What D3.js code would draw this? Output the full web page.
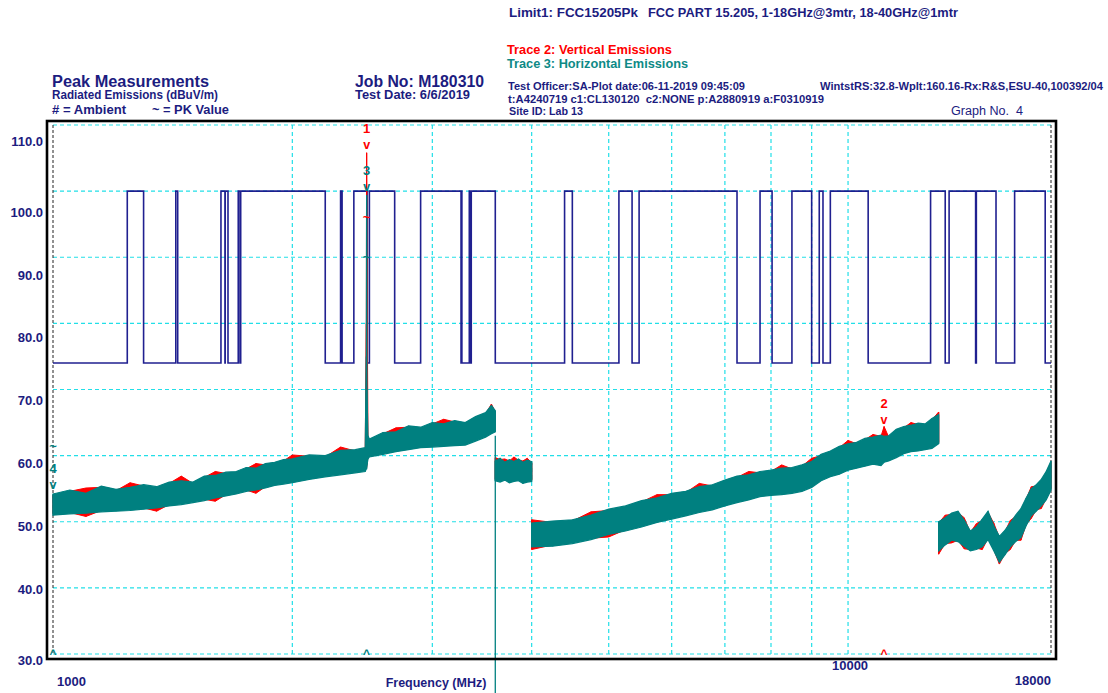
<!DOCTYPE html>
<html><head><meta charset="utf-8">
<script src="https://cdn.jsdelivr.net/npm/d3@7/dist/d3.min.js"></script>
<style>
html,body{margin:0;padding:0;background:#fff;}
svg{display:block;}
text{font-family:"Liberation Sans",Arial,sans-serif;white-space:pre;}
</style></head><body>
<svg id="chart" width="1108" height="693"></svg>
<script>
// ---------------- data ----------------
const yGridValues = [30,40,50,60,70,80,90,100,110];
const yTickLabels = [30,40,50,60,70,80,90,100,110];
const xGridValues = [2000,3000,4000,5000,6000,7000,8000,9000,10000];
const xEdgeValues = [1000,18000];
const xTickLabels = [1000,10000,18000];

// Limit1: FCC 15.205 (step line, MHz / dBuV/m)
const limitFreq  = [1000,1240,1300,1427,1435,1626.5,1645.5,1646.5,1660,1710,1718.8,1722.2,2200,2300,2310,2390,2483.5,2500,2690,2900,3260,3267,3268,3339,3345.8,3358,3600,4400,4500,5150,5350,5460,7250,7750,8025,8500,9000,9200,9300,9500,10600,12700,13250,13400,14470,14500,15350,16200,17700,18000];
const limitLevel = [74,100,74,100,74,100,74,100,74,100,74,100,74,100,74,100,74,100,74,100,74,100,74,100,74,100,74,100,74,100,74,100,74,100,74,100,74,100,74,100,74,100,74,100,74,100,74,100,74,74];

// Segment A 1000-3600 MHz
const freqA    = [1000,1050,1100,1150,1200,1250,1300,1350,1400,1450,1500,1550,1600,1650,1700,1750,1800,1850,1900,1950,2000,2100,2200,2300,2400,2470,2478,2480,2482,2490,2500,2600,2700,2800,2900,3000,3100,3200,3300,3400,3500,3560,3600];
const horizHiA = [54.2,54.8,54.3,55.4,54.9,55.2,55.6,55.3,56.0,56.2,56.0,56.9,57.0,57.5,57.6,58.2,58.1,58.8,59.0,59.4,59.5,60.1,60.0,60.8,60.9,61.2,75.0,99.4,70.0,63.0,62.5,63.5,63.6,64.5,64.3,65.0,64.8,65.3,65.0,65.9,66.5,67.6,66.8];
const horizLoA = [51.0,51.2,51.3,51.5,51.6,51.7,51.9,52.1,52.4,52.6,52.9,53.2,53.6,53.9,54.2,54.6,54.8,55.1,55.5,55.7,55.9,56.4,56.8,57.1,57.4,57.6,58.0,58.0,58.5,59.5,59.8,60.2,60.6,60.9,61.2,61.3,61.4,61.5,61.6,62.2,62.8,63.3,63.6];
const vertHiA  = [54.0,54.6,55.1,55.2,54.7,55.9,55.4,55.1,55.8,56.9,55.8,56.7,57.6,57.3,57.4,58.0,58.8,58.6,58.8,59.2,60.1,59.9,59.8,61.3,60.7,61.0,80.0,105.8,90.0,62.8,62.3,63.3,64.2,64.3,64.1,64.8,65.5,65.1,64.8,65.7,66.3,67.8,66.6];
const vertLoA  = [51.2,51.4,50.8,51.7,51.8,51.9,52.1,51.6,52.6,52.8,53.1,53.4,53.1,54.1,54.4,54.8,54.3,55.3,55.7,55.9,56.1,56.6,57.0,57.3,57.6,57.8,58.2,58.2,58.7,59.7,60.0,60.4,60.8,61.1,61.4,61.5,61.6,61.7,61.8,62.4,63.0,63.5,63.8];

// Segment B 3600-4000 MHz
const freqB    = [3600,3650,3700,3750,3800,3850,3900,3950,4000];
const horizHiB = [59.2,59.6,59.0,59.4,59.1,59.5,59.0,59.3,59.1];
const horizLoB = [56.2,56.0,56.3,55.9,56.1,56.2,55.8,56.0,56.1];
const vertHiB  = [59.7,59.4,59.5,59.2,59.8,59.3,59.2,59.6,58.9];
const vertLoB  = [56.4,56.2,56.5,56.1,56.3,56.4,56.0,56.2,56.3];

// Segment C 4000-13000 MHz
const freqC    = [4000,4250,4500,4750,5000,5250,5500,5750,6000,6250,6500,6750,7000,7250,7500,7750,8000,8250,8500,8750,9000,9250,9500,9750,10000,10250,10500,10750,11000,11100,11250,11500,11750,12000,12250,12500,12750,13000];
const horizHiC = [49.8,50.1,50.3,51.0,51.9,52.4,53.2,53.6,54.3,54.6,55.3,55.6,56.3,56.9,57.1,57.6,57.8,58.1,58.2,58.6,59.1,60.2,60.7,61.4,61.8,62.0,62.6,62.8,63.1,62.9,63.0,64.0,64.4,64.6,64.9,64.8,65.6,66.2];
const horizLoC = [46.2,46.3,46.7,47.3,48.1,48.6,49.2,49.9,50.4,50.9,51.4,51.8,52.4,52.9,53.3,53.8,54.0,54.1,54.3,54.6,55.2,56.2,56.8,57.2,57.8,58.1,58.4,58.7,58.5,59.0,59.2,59.7,60.3,60.6,60.7,60.9,61.1,61.8];
const vertHiC  = [50.3,49.9,50.1,51.5,51.7,52.2,53.0,54.1,54.1,54.4,55.8,55.4,56.1,56.7,57.6,57.4,57.6,58.6,58.0,58.4,59.6,60.0,60.5,61.2,62.3,61.8,62.4,63.2,62.9,64.4,62.8,63.8,64.2,65.0,64.7,64.6,65.4,66.6];
const vertLoC  = [45.8,46.5,46.9,47.5,47.7,48.8,49.4,50.1,50.6,51.1,51.6,52.0,52.6,53.1,53.5,54.0,54.2,54.3,54.5,54.8,55.4,56.4,57.0,57.4,58.0,58.3,58.6,58.9,58.7,59.2,59.4,59.9,60.5,60.8,60.9,61.1,61.3,62.0];

// Segment D 13000-18000 MHz
const freqD    = [13000,13250,13500,13750,14000,14250,14500,14750,15000,15250,15500,15750,16000,16250,16500,16750,17000,17250,17500,17750,18000];
const horizHiD = [50.0,50.6,51.3,51.6,50.2,48.6,49.2,50.4,51.6,49.4,47.8,48.7,49.8,51.0,52.0,53.6,55.0,55.6,56.4,57.6,59.2];
const horizLoD = [45.6,46.5,47.2,47.0,46.3,45.6,45.8,46.2,47.3,45.6,43.9,45.0,46.2,47.0,47.6,49.4,50.9,51.6,52.4,53.3,54.8];
const vertHiD  = [49.8,51.0,51.1,51.4,50.6,48.4,49.7,50.2,51.4,49.8,47.6,48.5,50.2,50.8,51.8,53.4,55.3,55.4,56.2,57.4,59.0];
const vertLoD  = [45.1,46.7,46.8,47.2,45.9,45.8,46.0,45.8,47.5,45.8,43.6,45.2,45.8,47.2,47.2,49.6,50.5,51.8,52.0,53.5,55.0];

// glitch line of trace 3 at band edge
const glitchFreq = [3600];
const glitchTop = [63.0];
const glitchBottom = [20.0];

// markers
const markerNum   = ["1","2","3","4"];
const markerFreq  = [2480,11100,2480,1000];
const markerValue = [105.8,64.2,99.4,54.3];
const markerTrace = ["V","V","H","H"];
const caretFreq   = [1000,2480,11100];
const caretTrace  = ["H","H","V"];
const tildeFreq   = [2480,2480,1000];
const tildeValue  = [95.9,89.9,61.3];
const tildeTrace  = ["V","H","H"];

// ---------------- chart ----------------
const NAVY = "#1c1c80", RED = "#ff0000", TEAL = "#008080", CYAN = "#22dfe8";
const color = t => t === "V" ? RED : TEAL;
const svg = d3.select("#chart");

const x = d3.scaleLog().domain([1000,18000]).range([53,1051]);
const y = d3.scaleLinear().domain([30,110]).range([654,125]);
const yLab = d3.scaleLinear().domain([30,40,100,110]).range([660,589,212,141]);

// grid
const grid = svg.append("g");
grid.selectAll(".hg").data(yGridValues).join("line")
  .attr("x1", x(1000)).attr("x2", x(18000))
  .attr("y1", d => y(d)).attr("y2", d => y(d))
  .attr("stroke", CYAN).attr("stroke-width", 1.2).attr("stroke-dasharray", "4,3");
grid.selectAll(".vg").data(xGridValues).join("line")
  .attr("x1", d => x(d)).attr("x2", d => x(d))
  .attr("y1", y(110)).attr("y2", y(30))
  .attr("stroke", CYAN).attr("stroke-width", 1.2).attr("stroke-dasharray", "4,3");
grid.selectAll(".eg").data(xEdgeValues).join("line")
  .attr("x1", d => x(d)).attr("x2", d => x(d))
  .attr("y1", y(110)).attr("y2", y(30))
  .attr("stroke", "#222").attr("stroke-width", 1).attr("stroke-dasharray", "3,2");

// limit line
const limitData = limitFreq.map((f,i) => ({f, v: limitLevel[i]}));
svg.append("path").datum(limitData)
  .attr("d", d3.line().x(d => x(d.f)).y(d => y(d.v)).curve(d3.curveStepAfter))
  .attr("fill", "none").attr("stroke", "#14148a").attr("stroke-width", 1.6)
  .attr("stroke-opacity", 0.95);

// traces
const segs = [
  {f: freqA, hHi: horizHiA, hLo: horizLoA, vHi: vertHiA, vLo: vertLoA},
  {f: freqB, hHi: horizHiB, hLo: horizLoB, vHi: vertHiB, vLo: vertLoB},
  {f: freqC, hHi: horizHiC, hLo: horizLoC, vHi: vertHiC, vLo: vertLoC},
  {f: freqD, hHi: horizHiD, hLo: horizLoD, vHi: vertHiD, vLo: vertLoD}
];
const area = d3.area().x(d => x(d.f)).y0(d => y(d.lo)).y1(d => y(d.hi));
function drawTrace(hiKey, loKey, col, sw){
  segs.forEach(s => {
    const data = s.f.map((f,i) => ({f, hi: s[hiKey][i], lo: s[loKey][i]}));
    svg.append("path").datum(data).attr("d", area)
      .attr("fill", col).attr("stroke", col).attr("stroke-width", sw)
      .attr("stroke-linejoin", "miter");
    svg.selectAll(null).data(data).join("line")
      .attr("x1", d => x(d.f)).attr("x2", d => x(d.f))
      .attr("y1", d => y(d.hi)).attr("y2", d => y(d.lo))
      .attr("stroke", col).attr("stroke-width", 1.2);
  });
}
drawTrace("vHi", "vLo", RED, 1.0);
drawTrace("hHi", "hLo", TEAL, 1.2);

svg.selectAll(".glitch").data(glitchFreq).join("line")
  .attr("x1", d => x(d)).attr("x2", d => x(d))
  .attr("y1", (d,i) => y(glitchTop[i])).attr("y2", (d,i) => y(glitchBottom[i]))
  .attr("stroke", TEAL).attr("stroke-width", 1.3);

// markers
const mk = svg.append("g").attr("font-weight", "bold").attr("text-anchor", "middle");
markerNum.forEach((n,i) => {
  const cx = x(markerFreq[i]);
  const py = y(markerValue[i]);
  mk.append("text").attr("x", cx).attr("y", py - 20).attr("font-size", 13)
    .attr("fill", color(markerTrace[i])).text(n);
  mk.append("text").attr("x", cx).attr("y", py - 4).attr("font-size", 12.5)
    .attr("fill", color(markerTrace[i])).text("v");
});
caretFreq.forEach((f,i) => {
  mk.append("text").attr("x", x(f)).attr("y", 658).attr("font-size", 12)
    .attr("fill", color(caretTrace[i])).text("^");
});
tildeFreq.forEach((f,i) => {
  mk.append("text").attr("x", x(f)).attr("y", y(tildeValue[i]) + 4).attr("font-size", 13)
    .attr("fill", color(tildeTrace[i])).text("~");
});

// frame
svg.append("rect").attr("x", 47).attr("y", 121).attr("width", 1009).attr("height", 538)
  .attr("fill", "none").attr("stroke", "#000").attr("stroke-width", 2.6);

// y labels
const yAxis = d3.axisLeft(yLab).tickValues(yTickLabels).tickSize(0).tickPadding(0)
  .tickFormat(d3.format(".1f"));
const ya = svg.append("g").attr("transform", "translate(43,0)").call(yAxis);
ya.select(".domain").remove();
ya.selectAll("text").attr("font-family", "Liberation Sans, Arial, sans-serif")
  .attr("font-size", 13).attr("font-weight", "bold").attr("fill", NAVY);

// x labels
const xlab = svg.append("g").attr("font-weight", "bold").attr("font-size", 13).attr("fill", NAVY);
const xAnchor = ["start","middle","end"], xDx = [4,2,0], xBase = [686,670,685];
xTickLabels.forEach((t,i) => {
  xlab.append("text").attr("x", x(t) + xDx[i]).attr("y", xBase[i])
    .attr("text-anchor", xAnchor[i]).text(String(t));
});
svg.append("text").attr("x", 436).attr("y", 686.5).attr("text-anchor", "middle")
  .attr("font-weight", "bold").attr("font-size", 12.5).attr("fill", NAVY)
  .text("Frequency (MHz)");

// header texts
function txt(s, xx, yy, size, weight, fill, len){
  const t = svg.append("text").attr("x", xx).attr("y", yy).attr("font-size", size)
    .attr("font-weight", weight).attr("fill", fill).text(s);
  if (len) t.attr("textLength", len).attr("lengthAdjust", "spacingAndGlyphs");
  return t;
}
txt("Limit1: FCC15205Pk", 509, 17.3, 12, "bold", NAVY, 129);
txt("FCC PART 15.205, 1-18GHz@3mtr, 18-40GHz@1mtr", 648, 17.3, 12, "bold", NAVY, 310);
txt("Trace 2: Vertical Emissions", 507, 54.3, 12, "bold", RED, 165);
txt("Trace 3: Horizontal Emissions", 507, 68.3, 12, "bold", "#0e8a86", 181);
txt("Test Officer:SA-Plot date:06-11-2019 09:45:09", 508, 89.6, 10, "bold", NAVY, 237);
txt("WintstRS:32.8-Wplt:160.16-Rx:R&S,ESU-40,100392/04", 820, 89.6, 10, "bold", NAVY, 283);
txt("t:A4240719 c1:CL130120  c2:NONE p:A2880919 a:F0310919", 508, 102.6, 10, "bold", NAVY, 316);
txt("Site ID: Lab 13", 509, 114.6, 10, "bold", NAVY, 74);
txt("Graph No.  4", 951, 115.3, 12, "normal", NAVY, 72);
txt("Peak Measurements", 52, 86.7, 16, "bold", NAVY, 157);
txt("Radiated Emissions (dBuV/m)", 52, 99.3, 12, "bold", NAVY, 166);
txt("# = Ambient", 52, 114.3, 12, "bold", NAVY, 74);
txt("~ = PK Value", 152, 114.3, 12, "bold", NAVY, 77);
txt("Job No: M180310", 355, 86.7, 16, "bold", NAVY, 129);
txt("Test Date: 6/6/2019", 355, 99.3, 12, "bold", NAVY, 115);
</script>
</body></html>
